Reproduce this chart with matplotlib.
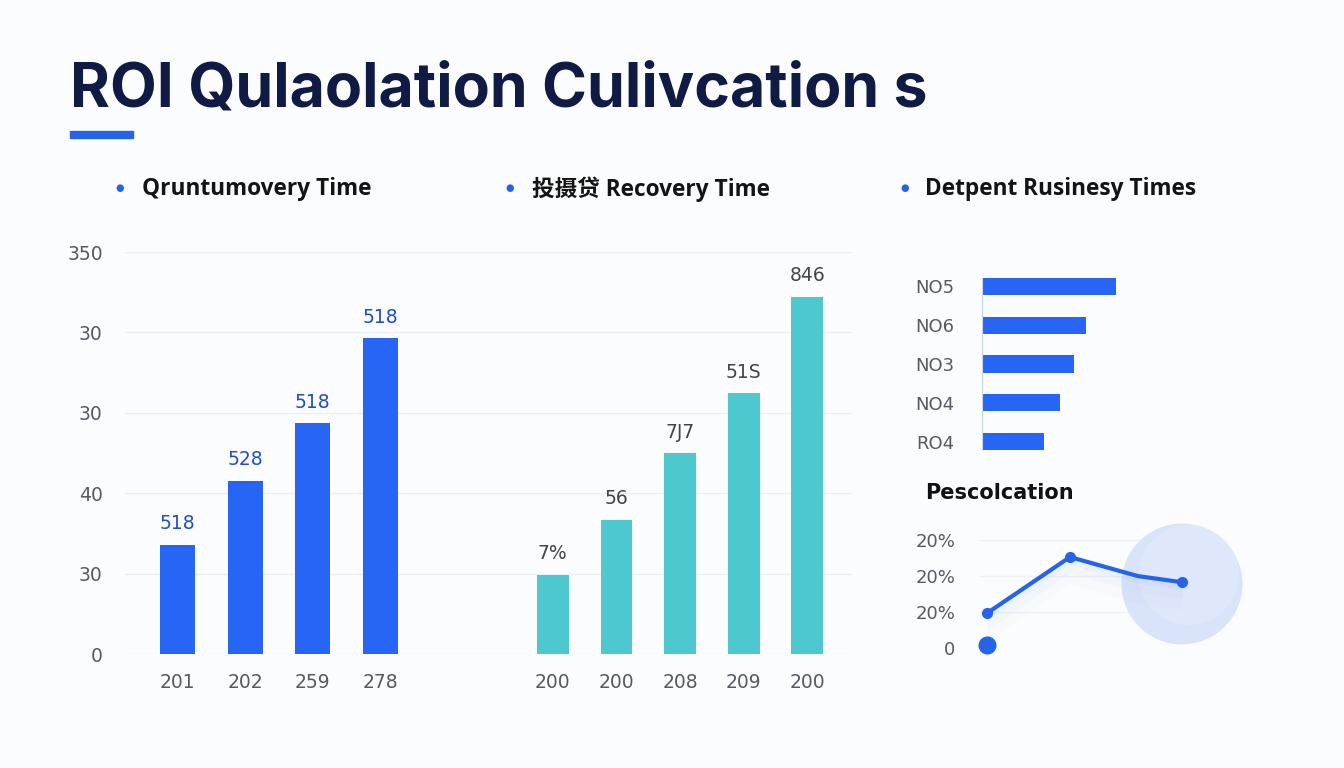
import numpy as np
import matplotlib
matplotlib.use("Agg")
import matplotlib.pyplot as plt
from matplotlib.patches import Rectangle, Ellipse

# ---- data ----
title = "ROI Qulaolation Culivcation s"
subtitles = ["Qruntumovery Time", "投摄贷 Recovery Time", "Detpent Rusinesy Times"]

ytick_vals = [0, 70, 140, 210, 280, 350]
ytick_labels = ["0", "30", "40", "30", "30", "350"]

left_cats = ["201", "202", "259", "278"]
left_vals = [95, 151, 201, 275]
left_labels = ["518", "528", "518", "518"]

right_cats = ["200", "200", "208", "209", "200"]
right_vals = [69, 117, 175, 227, 311]
right_labels = ["7%", "56", "7J7", "51S", "846"]

hbar_cats = ["NO5", "NO6", "NO3", "NO4", "RO4"]
hbar_vals = [67, 52, 46, 39, 31]

line_title = "Pescolcation"
line_x = [0, 1, 1.82, 2.35]
line_y = [0.97, 2.53, 2.0, 1.83]
line_ticks = [0, 1, 2, 3]
line_tick_labels = ["0", "20%", "20%", "20%"]

BLUE = "#2563eb"
BAR_BLUE = "#2766f4"
TEAL = "#4ec8cf"
NAVY = "#0f1b45"
GREY = "#555a63"
BG = "#fbfcfd"

W, H = 1344, 768


def rect(x0, y0, x1, y1):
    # pixel box -> figure fraction
    return [x0 / W, 1 - y1 / H, (x1 - x0) / W, (y1 - y0) / H]


fig = plt.figure(figsize=(W / 100, H / 100), dpi=100)
fig.patch.set_facecolor(BG)

# title + accent bar
fig.text(70 / W, 1 - 106 / H, title, fontsize=43.8, fontweight="bold",
         color=NAVY, family=["Inter", "DejaVu Sans"], va="baseline")
fig.patches.append(Rectangle((70 / W, 1 - 138 / H), 63 / W, 7 / H,
                             transform=fig.transFigure, color=BLUE))

# subtitles with bullets
for bx, tx, s in zip([120, 510, 905], [142, 532, 925], subtitles):
    fig.text(bx / W, 1 - 188 / H, "●", fontsize=7, color=BLUE,
             ha="center", va="center")
    fig.text(tx / W, 1 - 189 / H, s, fontsize=16.3, fontweight="bold",
             color="#141414", family=["Open Sans", "Noto Sans CJK SC"],
             va="center")

# ---- main bar chart (both groups on one axes) ----
ax = fig.add_axes(rect(125, 252, 852, 654))
ax.set_facecolor("none")
ax.set_xlim(0, 10.74)
ax.set_ylim(0, 350)
for sp in ax.spines.values():
    sp.set_visible(False)
ax.set_yticks(ytick_vals)
ax.set_yticklabels(ytick_labels)
ax.yaxis.grid(True, color="#eceef2", lw=1)
ax.set_axisbelow(True)
ax.tick_params(axis="both", length=0, labelsize=13.5, labelcolor=GREY)
ax.tick_params(axis="y", pad=16)
ax.tick_params(axis="x", pad=14)

lx = 0.775 + np.arange(len(left_vals)) * 1.0
rx = 6.32 + np.arange(len(right_vals)) * 0.94
ax.bar(lx, left_vals, width=0.52, color=BAR_BLUE)
ax.bar(rx, right_vals, width=0.47, color=TEAL)
for x, v, s in zip(lx, left_vals, left_labels):
    ax.text(x, v + 10, s, ha="center", va="bottom", fontsize=13.5,
            color="#1f4fd0")
for x, v, s in zip(rx, right_vals, right_labels):
    ax.text(x, v + 10, s, ha="center", va="bottom", fontsize=13.5,
            color="#444")
ax.set_xticks(list(lx) + list(rx))
ax.set_xticklabels(left_cats + right_cats)

# ---- horizontal bars ----
hx = fig.add_axes(rect(982, 267, 1182, 461))
hx.set_facecolor("none")
hx.barh(range(len(hbar_vals)), hbar_vals, height=0.44, color=BAR_BLUE)
hx.set_ylim(4.5, -0.5)
hx.set_xlim(0, 100)
for k in ["top", "right", "bottom"]:
    hx.spines[k].set_visible(False)
hx.spines["left"].set_color("#c9d5ea")
hx.spines["left"].set_bounds(-0.22, 4.22)
hx.set_xticks([])
hx.set_yticks(range(len(hbar_cats)))
hx.set_yticklabels(hbar_cats)
hx.tick_params(axis="y", length=0, pad=20, labelsize=13, labelcolor=GREY)

fig.text(925 / W, 1 - 493 / H, line_title, fontsize=15, fontweight="bold",
         color="#111", va="center")

# ---- small line chart ----
lax = fig.add_axes(rect(975, 520, 1240, 660))
lax.set_facecolor("none")
lax.set_xlim(-0.145, 3.05)
lax.set_ylim(-0.333, 3.56)
for sp in lax.spines.values():
    sp.set_visible(False)
lax.set_xticks([])
lax.set_yticks(line_ticks)
lax.set_yticklabels(line_tick_labels)
lax.tick_params(axis="y", length=0, pad=14, labelsize=13, labelcolor=GREY)
for t in line_ticks[1:]:
    lax.axhline(t, xmin=0.02, xmax=0.85, color="#eef0f4", lw=1, zorder=0)

# pale disc around the last point
cx, cy = line_x[-1], line_y[-1] - 0.05
lax.add_patch(Ellipse((cx, cy), 121 / 83, 121 / 36, color="#d9e4fa",
                      lw=0, zorder=1, clip_on=False))
lax.add_patch(Ellipse((cx + 0.08, cy + 0.25), 100 / 83, 100 / 36,
                      color="#e2eafb", alpha=0.7, lw=0, zorder=1,
                      clip_on=False))

# faint glow under the line
for a, d in zip([0.03, 0.02, 0.015], [0.2, 0.45, 0.75]):
    lax.fill_between(line_x, line_y, np.array(line_y) - d, color=BLUE,
                     alpha=a, lw=0, zorder=1)
lax.plot(line_x, line_y, color=BLUE, lw=3, zorder=3)
lax.plot([line_x[i] for i in (0, 1, 3)], [line_y[i] for i in (0, 1, 3)],
         "o", color=BLUE, ms=7, zorder=4)
lax.plot([0], [0.08], "o", color=BLUE, ms=12, zorder=4)

fig.savefig("out.png", dpi=100, facecolor=fig.get_facecolor())
